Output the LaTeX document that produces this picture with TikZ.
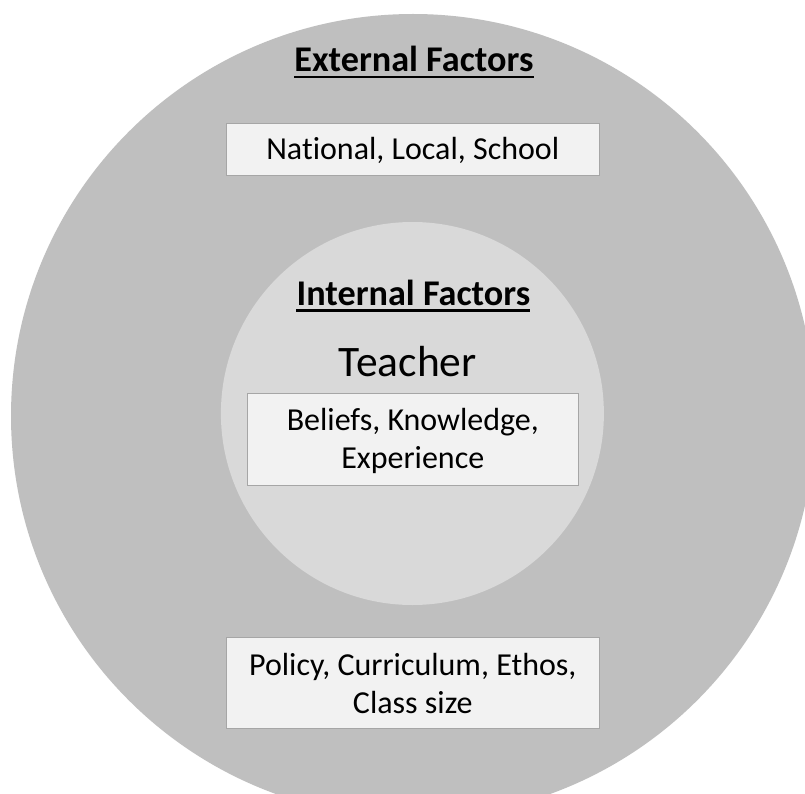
\documentclass[tikz,border=0pt]{standalone}
\usepackage{fontspec}
\setmainfont[Ligatures=NoCommon]{Carlito}
\definecolor{outerc}{HTML}{BFBFBF}
\definecolor{innerc}{HTML}{D9D9D9}
\definecolor{boxc}{HTML}{F2F2F2}
\definecolor{boxline}{HTML}{A6A6A6}
\tikzset{
  boxnode/.style={draw=boxline, line width=1pt, fill=boxc, align=center, inner sep=0pt},
  head/.style={font=\fontsize{36.2}{42}\selectfont\bfseries, inner sep=0pt, anchor=base},
  uline/.style={line width=2.2pt},
}
\begin{document}
\begin{tikzpicture}[x=1pt,y=-1pt]
\useasboundingbox (0,0) rectangle (805,794);
\clip (0,0) rectangle (805,794);
\fill[white] (0,0) rectangle (805,794);
\fill[outerc] (413,416) circle (402);
\fill[innerc] (412.4,413.5) circle (191.5);
\node[head] (ext) at (413.9,71.7) {External Factors};
\draw[uline] ([yshift=-5.6pt]ext.base west) -- ([yshift=-5.6pt]ext.base east);
\node[boxnode, minimum width=373.6pt, minimum height=52.4pt, font=\fontsize{32}{38}\selectfont] (nat) at (412.8,149.5) {\rule{0pt}{29.6pt}National, Local, School\rule[-10pt]{0pt}{10pt}};
\node[head] (int) at (413.4,305) {Internal Factors};
\draw[uline] ([yshift=-5.4pt]int.base west) -- ([yshift=-5.4pt]int.base east);
\node[font=\fontsize{43.5}{50}\selectfont, inner sep=0pt, anchor=base] (teacher) at (407.7,376.5) {Teacher};
\node[boxnode, minimum width=331pt, minimum height=92.2pt, font=\fontsize{32}{38.3}\selectfont] (bel) at (412.8,439.4) {\rule{0pt}{29.5pt}Beliefs, Knowledge,\\Experience\rule[-10pt]{0pt}{10pt}};
\node[boxnode, minimum width=373.6pt, minimum height=91.5pt, font=\fontsize{32}{38.3}\selectfont] (pol) at (412.8,683) {\rule{0pt}{32.3pt}Policy, Curriculum, Ethos,\\Class size\rule[-10pt]{0pt}{10pt}};
\end{tikzpicture}
\end{document}
